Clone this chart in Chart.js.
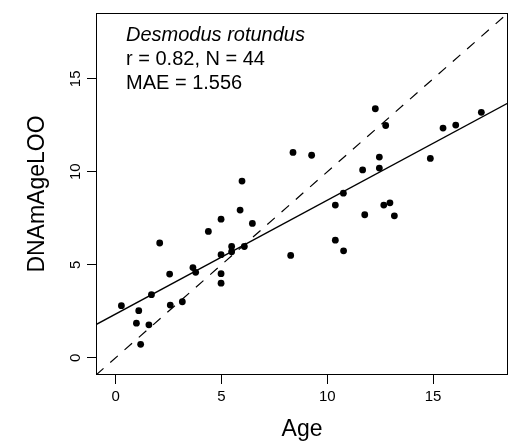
<!DOCTYPE html>
<html>
<head>
<meta charset="utf-8">
<script src="https://cdn.jsdelivr.net/npm/chart.js@4/dist/chart.umd.min.js"></script>
<style>
  html, body { margin: 0; padding: 0; background: #fff; }
</style>
</head>
<body>
<canvas id="chart" width="515" height="444"></canvas>
<script>
// Points
const age = [0.27, 0.98, 1.09, 1.18, 1.57, 1.69, 2.08, 2.55, 2.58, 3.15,
             3.65, 3.78, 4.38, 4.98, 4.98, 4.98, 4.98, 5.48, 5.48, 5.88,
             5.97, 6.08, 6.46, 8.27, 8.38, 9.26, 10.38, 10.38, 10.76, 10.77,
             11.67, 11.77, 12.27, 12.46, 12.46, 12.67, 12.76, 12.96, 13.17, 14.87,
             15.47, 16.07, 17.28];
const dnamAgeLOO = [2.80, 1.86, 2.53, 0.72, 1.77, 3.39, 6.17, 4.50, 2.83, 3.01,
                    4.85, 4.59, 6.79, 7.45, 5.54, 4.52, 4.01, 5.98, 5.70, 7.94,
                    9.50, 5.98, 7.22, 5.50, 11.04, 10.89, 8.21, 6.32, 8.85, 5.75,
                    10.10, 7.69, 13.39, 10.79, 10.20, 8.21, 12.49, 8.33, 7.63, 10.72,
                    12.35, 12.51, 13.20];

// regression fit (solid line) and axis range
const fitIntercept = 2.35;
const fitSlope = 0.612;
const axisMin = -0.93;
const axisMax = 18.54;
const xTicks = [0, 5, 10, 15];
const yTicks = [0, 5, 10, 15];
const noteLines = ['Desmodus rotundus', 'r = 0.82, N = 44', 'MAE = 1.556'];

const FONT = "'Liberation Sans', Arial, Helvetica, sans-serif";
Chart.defaults.font.family = FONT;
Chart.defaults.color = '#000';

const points = age.map((a, i) => ({ x: a, y: dnamAgeLOO[i] }));
const fitLine = [axisMin, axisMax].map(x => ({ x: x, y: fitIntercept + fitSlope * x }));
const identityLine = [axisMin, axisMax].map(x => ({ x: x, y: x }));

// box around the plot region + the text note in the corner
const framePlugin = {
    id: 'frame',
    afterDraw(chart) {
        const { ctx, chartArea: a } = chart;
        ctx.save();
        ctx.strokeStyle = '#000';
        ctx.lineWidth = 1;
        ctx.strokeRect(Math.round(a.left) + 0.5, Math.round(a.top) + 0.5,
                       Math.round(a.right - a.left) - 1, Math.round(a.bottom - a.top) - 1);

        ctx.fillStyle = '#000';
        ctx.textAlign = 'left';
        ctx.textBaseline = 'alphabetic';
        noteLines.forEach((txt, i) => {
            ctx.font = (i === 0 ? 'italic ' : '') + '20px ' + FONT;
            ctx.fillText(txt, a.left + 30, a.top + 28 + i * 24);
        });
        ctx.restore();
    }
};

const axisGrid = { drawOnChartArea: false, drawTicks: true, tickLength: 9, color: '#000', lineWidth: 1 };

new Chart(document.getElementById('chart').getContext('2d'), {
    type: 'scatter',
    data: {
        datasets: [
            {
                data: points,
                backgroundColor: '#000',
                borderWidth: 0,
                pointRadius: 3.4
            },
            {
                type: 'line',
                data: fitLine,
                borderColor: '#000',
                borderWidth: 1.4,
                pointRadius: 0,
                fill: false
            },
            {
                type: 'line',
                data: identityLine,
                borderColor: '#000',
                borderWidth: 1.2,
                borderDash: [10, 9],
                pointRadius: 0,
                fill: false
            }
        ]
    },
    options: {
        responsive: false,
        animation: false,
        devicePixelRatio: 1,
        layout: { padding: { top: 13, right: 7, left: 0, bottom: 0 } },
        plugins: { legend: { display: false }, tooltip: { enabled: false } },
        scales: {
            x: {
                type: 'linear',
                min: axisMin,
                max: axisMax,
                afterBuildTicks: s => { s.ticks = xTicks.map(v => ({ value: v })); },
                afterFit: s => { s.height = 69; s.paddingLeft = 0; s.paddingRight = 0; },
                grid: axisGrid,
                border: { display: false },
                ticks: { font: { size: 15 }, padding: 4, maxRotation: 0, color: '#000' },
                title: { display: true, text: 'Age', font: { size: 23 }, color: '#000', padding: { top: 0, bottom: 1 } }
            },
            y: {
                type: 'linear',
                min: axisMin,
                max: axisMax,
                afterBuildTicks: s => { s.ticks = yTicks.map(v => ({ value: v })); },
                afterFit: s => { s.width = 96; s.paddingTop = 0; s.paddingBottom = 0; },
                grid: axisGrid,
                border: { display: false },
                ticks: { font: { size: 15 }, padding: 3, minRotation: 90, maxRotation: 90, crossAlign: 'center', color: '#000' },
                title: { display: true, text: 'DNAmAgeLOO', font: { size: 23 }, color: '#000', padding: { top: 24, bottom: 0 } }
            }
        }
    },
    plugins: [framePlugin]
});
</script>
</body>
</html>
